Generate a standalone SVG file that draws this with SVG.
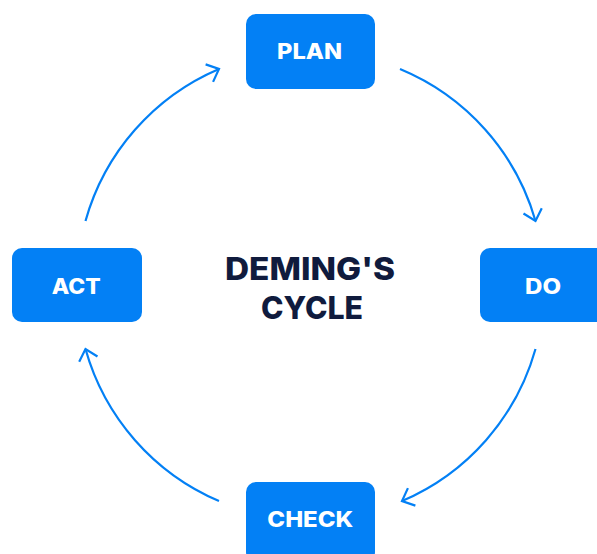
<svg xmlns="http://www.w3.org/2000/svg" width="597" height="554" viewBox="0 0 597 554">
<style>
.box{fill:#0380F5}
.lbl{font-family:Inter,"Open Sans","Liberation Sans",sans-serif;font-weight:800;font-size:21px;fill:#ffffff;text-anchor:middle}
.title{font-family:Inter,"Open Sans","Liberation Sans",sans-serif;font-weight:800;font-size:31px;fill:#101B3D;text-anchor:middle}
.arc{fill:none;stroke:#0380F5;stroke-width:2.2;marker-end:url(#arr)}
</style>
<defs>
<marker id="arr" markerUnits="userSpaceOnUse" viewBox="-14 -12 16 24" refX="0" refY="0" markerWidth="16" markerHeight="24" orient="auto" overflow="visible">
<path d="M-10.5,-9.5 L0,0 L-10.5,9.5" fill="none" stroke="#0380F5" stroke-width="2.2"/>
</marker>
</defs>
<g id="connectors">
<path class="arc" d="M400,69 A234,234 0 0 1 535.5,221"/>
<path class="arc" d="M535.5,349 A234,234 0 0 1 402,501"/>
<path class="arc" d="M219,501 A234,234 0 0 1 85.5,349"/>
<path class="arc" d="M85.5,221 A234,234 0 0 1 219,69"/>
</g>
<g id="title">
<text class="title" x="310" y="279.5" textLength="170" lengthAdjust="spacingAndGlyphs">DEMING'S</text>
<text class="title" x="312" y="319" textLength="102" lengthAdjust="spacingAndGlyphs">CYCLE</text>
</g>
<g id="plan">
<rect class="box" x="246" y="14" width="129" height="75" rx="10"/>
<text class="lbl" x="309.5" y="59.3" textLength="65" lengthAdjust="spacingAndGlyphs">PLAN</text>
</g>
<g id="do">
<rect class="box" x="480" y="248" width="130" height="74" rx="10"/>
<text class="lbl" x="543" y="294" textLength="36" lengthAdjust="spacingAndGlyphs">DO</text>
</g>
<g id="check">
<rect class="box" x="246" y="482" width="129" height="80" rx="10"/>
<text class="lbl" x="310.3" y="527.3" textLength="86" lengthAdjust="spacingAndGlyphs">CHECK</text>
</g>
<g id="act">
<rect class="box" x="12" y="248" width="130" height="74" rx="10"/>
<text class="lbl" x="76.2" y="294" textLength="49" lengthAdjust="spacingAndGlyphs">ACT</text>
</g>
</svg>
